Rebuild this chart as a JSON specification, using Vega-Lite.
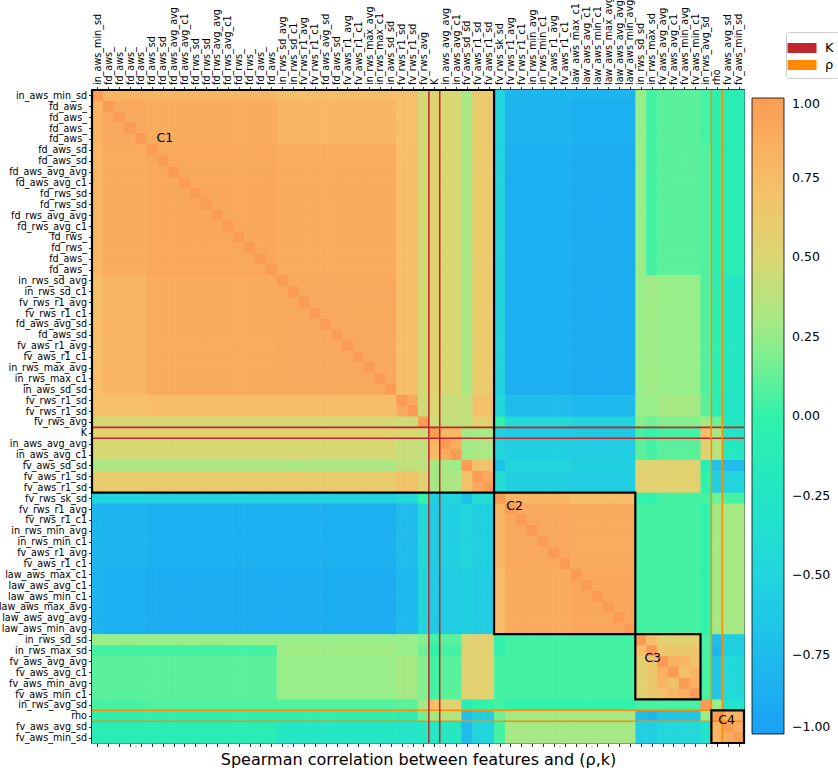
{
"$schema":"https://vega.github.io/schema/vega-lite/v6.json",
"width":652,"height":653,
"autosize":{"type":"none"},
"padding":{"left":92,"top":90,"right":94,"bottom":30},
"params":[{"name":"names","value":["in_aws_min_sd","fd_aws_","fd_aws_","fd_aws_","fd_aws_","fd_aws_sd","fd_aws_sd","fd_aws_avg_avg","fd_aws_avg_c1","fd_rws_sd","fd_rws_sd","fd_rws_avg_avg","fd_rws_avg_c1","fd_rws_","fd_rws_","fd_aws_","fd_aws_","in_rws_sd_avg","in_rws_sd_c1","fv_rws_r1_avg","fv_rws_r1_c1","fd_aws_avg_sd","fd_aws_sd","fv_aws_r1_avg","fv_aws_r1_c1","in_rws_max_avg","in_rws_max_c1","in_aws_sd_sd","fv_rws_r1_sd","fv_rws_r1_sd","fv_rws_avg","K","in_aws_avg_avg","in_aws_avg_c1","fv_aws_sd_sd","fv_aws_r1_sd","fv_aws_r1_sd","fv_rws_sk_sd","fv_rws_r1_avg","fv_rws_r1_c1","in_rws_min_avg","in_rws_min_c1","fv_aws_r1_avg","fv_aws_r1_c1","law_aws_max_c1","law_aws_avg_c1","law_aws_min_c1","law_aws_max_avg","law_aws_avg_avg","law_aws_min_avg","in_rws_sd_sd","in_rws_max_sd","fv_aws_avg_avg","fv_aws_avg_c1","fv_aws_min_avg","fv_aws_min_c1","in_rws_avg_sd","rho","fv_aws_avg_sd","fv_aws_min_sd"]}],
"config":{"font":"DejaVu Sans","view":{"stroke":"black","strokeWidth":1.6},
 "axis":{"grid":false,"domain":false,"tickColor":"black","tickSize":3.5,"tickWidth":0.8,"labelColor":"black","labelFont":"DejaVu Sans","labelFontSize":9.6,"labelPadding":2,"labelOverlap":false,"labelFlush":false,"titleColor":"black","titleFont":"DejaVu Sans","titleFontWeight":"normal"}},
"resolve":{"axis":{"x":"independent","y":"independent"}},
"layer":[
{"data":{"values":[
{"i":0,"v":[100,82,82,82,82,80,80,80,80,80,80,80,80,80,80,80,80,75,75,75,75,75,75,75,75,75,75,75,72,72,47,55,48,48,32,62,62,-50,-80,-80,-80,-80,-80,-80,-82,-82,-82,-82,-82,-82,25,5,10,10,10,10,5,-5,-10,-10]},
{"i":1,"v":[82,100,90,90,90,88,88,88,88,88,88,88,88,88,88,88,88,80,80,80,80,80,80,80,80,80,80,80,72,72,47,55,48,48,32,62,62,-50,-82,-82,-82,-82,-82,-82,-85,-85,-85,-85,-85,-85,25,5,10,10,10,10,5,-5,-10,-10]},
{"i":2,"v":[82,90,100,90,90,88,88,88,88,88,88,88,88,88,88,88,88,80,80,80,80,80,80,80,80,80,80,80,72,72,47,55,48,48,32,62,62,-50,-82,-82,-82,-82,-82,-82,-85,-85,-85,-85,-85,-85,25,5,10,10,10,10,5,-5,-10,-10]},
{"i":3,"v":[82,90,90,100,90,88,88,88,88,88,88,88,88,88,88,88,88,80,80,80,80,80,80,80,80,80,80,80,72,72,47,55,48,48,32,62,62,-50,-82,-82,-82,-82,-82,-82,-85,-85,-85,-85,-85,-85,25,5,10,10,10,10,5,-5,-10,-10]},
{"i":4,"v":[82,90,90,90,100,88,88,88,88,88,88,88,88,88,88,88,88,80,80,80,80,80,80,80,80,80,80,80,72,72,47,55,48,48,32,62,62,-50,-82,-82,-82,-82,-82,-82,-85,-85,-85,-85,-85,-85,25,5,10,10,10,10,5,-5,-10,-10]},
{"i":5,"v":[80,88,88,88,88,100,92,92,92,92,92,92,92,92,92,92,92,88,88,88,88,88,88,88,88,88,88,88,75,75,47,55,48,48,32,62,62,-52,-85,-85,-85,-85,-85,-85,-88,-88,-88,-88,-88,-88,25,5,10,10,10,10,8,-5,-10,-10]},
{"i":6,"v":[80,88,88,88,88,92,100,92,92,92,92,92,92,92,92,92,92,88,88,88,88,88,88,88,88,88,88,88,75,75,47,55,48,48,32,62,62,-52,-85,-85,-85,-85,-85,-85,-88,-88,-88,-88,-88,-88,25,5,10,10,10,10,8,-5,-10,-10]},
{"i":7,"v":[80,88,88,88,88,92,92,100,92,92,92,92,92,92,92,92,92,88,88,88,88,88,88,88,88,88,88,88,75,75,47,55,48,48,32,62,62,-52,-85,-85,-85,-85,-85,-85,-88,-88,-88,-88,-88,-88,25,5,10,10,10,10,8,-5,-10,-10]},
{"i":8,"v":[80,88,88,88,88,92,92,92,100,92,92,92,92,92,92,92,92,88,88,88,88,88,88,88,88,88,88,88,75,75,47,55,48,48,32,62,62,-52,-85,-85,-85,-85,-85,-85,-88,-88,-88,-88,-88,-88,25,5,10,10,10,10,8,-5,-10,-10]},
{"i":9,"v":[80,88,88,88,88,92,92,92,92,100,92,92,92,92,92,92,92,88,88,88,88,88,88,88,88,88,88,88,75,75,47,55,48,48,32,62,62,-52,-85,-85,-85,-85,-85,-85,-88,-88,-88,-88,-88,-88,25,5,10,10,10,10,8,-5,-10,-10]},
{"i":10,"v":[80,88,88,88,88,92,92,92,92,92,100,92,92,92,92,92,92,88,88,88,88,88,88,88,88,88,88,88,75,75,47,55,48,48,32,62,62,-52,-85,-85,-85,-85,-85,-85,-88,-88,-88,-88,-88,-88,25,5,10,10,10,10,8,-5,-10,-10]},
{"i":11,"v":[80,88,88,88,88,92,92,92,92,92,92,100,92,92,92,92,92,88,88,88,88,88,88,88,88,88,88,88,75,75,47,55,48,48,32,62,62,-52,-85,-85,-85,-85,-85,-85,-88,-88,-88,-88,-88,-88,25,5,10,10,10,10,8,-5,-10,-10]},
{"i":12,"v":[80,88,88,88,88,92,92,92,92,92,92,92,100,92,92,92,92,88,88,88,88,88,88,88,88,88,88,88,75,75,47,55,48,48,32,62,62,-52,-85,-85,-85,-85,-85,-85,-88,-88,-88,-88,-88,-88,25,5,10,10,10,10,8,-5,-10,-10]},
{"i":13,"v":[80,88,88,88,88,92,92,92,92,92,92,92,92,100,92,92,92,88,88,88,88,88,88,88,88,88,88,88,75,75,47,55,48,48,32,62,62,-52,-85,-85,-85,-85,-85,-85,-88,-88,-88,-88,-88,-88,25,5,10,10,10,10,8,-5,-10,-10]},
{"i":14,"v":[80,88,88,88,88,92,92,92,92,92,92,92,92,92,100,92,92,88,88,88,88,88,88,88,88,88,88,88,75,75,47,55,48,48,32,62,62,-52,-85,-85,-85,-85,-85,-85,-88,-88,-88,-88,-88,-88,25,5,10,10,10,10,8,-5,-10,-10]},
{"i":15,"v":[80,88,88,88,88,92,92,92,92,92,92,92,92,92,92,100,92,88,88,88,88,88,88,88,88,88,88,88,75,75,47,55,48,48,32,62,62,-52,-85,-85,-85,-85,-85,-85,-88,-88,-88,-88,-88,-88,25,5,10,10,10,10,8,-5,-10,-10]},
{"i":16,"v":[80,88,88,88,88,92,92,92,92,92,92,92,92,92,92,92,100,88,88,88,88,88,88,88,88,88,88,88,75,75,47,55,48,48,32,62,62,-52,-85,-85,-85,-85,-85,-85,-88,-88,-88,-88,-88,-88,25,5,10,10,10,10,8,-5,-10,-10]},
{"i":17,"v":[75,80,80,80,80,88,88,88,88,88,88,88,88,88,88,88,88,100,90,90,90,90,90,90,90,90,90,90,75,75,47,55,48,48,32,62,62,-52,-85,-85,-85,-85,-85,-85,-88,-88,-88,-88,-88,-88,25,28,25,25,25,25,8,-5,-22,-22]},
{"i":18,"v":[75,80,80,80,80,88,88,88,88,88,88,88,88,88,88,88,88,90,100,90,90,90,90,90,90,90,90,90,75,75,47,55,48,48,32,62,62,-52,-85,-85,-85,-85,-85,-85,-88,-88,-88,-88,-88,-88,25,28,25,25,25,25,8,-5,-22,-22]},
{"i":19,"v":[75,80,80,80,80,88,88,88,88,88,88,88,88,88,88,88,88,90,90,100,90,90,90,90,90,90,90,90,75,75,47,55,48,48,32,62,62,-52,-85,-85,-85,-85,-85,-85,-88,-88,-88,-88,-88,-88,25,28,25,25,25,25,8,-5,-22,-22]},
{"i":20,"v":[75,80,80,80,80,88,88,88,88,88,88,88,88,88,88,88,88,90,90,90,100,90,90,90,90,90,90,90,75,75,47,55,48,48,32,62,62,-52,-85,-85,-85,-85,-85,-85,-88,-88,-88,-88,-88,-88,25,28,25,25,25,25,8,-5,-22,-22]},
{"i":21,"v":[75,80,80,80,80,88,88,88,88,88,88,88,88,88,88,88,88,90,90,90,90,100,90,90,90,90,90,90,75,75,47,55,48,48,32,62,62,-52,-85,-85,-85,-85,-85,-85,-88,-88,-88,-88,-88,-88,25,28,25,25,25,25,8,-5,-22,-22]},
{"i":22,"v":[75,80,80,80,80,88,88,88,88,88,88,88,88,88,88,88,88,90,90,90,90,90,100,90,90,90,90,90,75,75,47,55,48,48,32,62,62,-52,-85,-85,-85,-85,-85,-85,-88,-88,-88,-88,-88,-88,25,28,25,25,25,25,8,-5,-22,-22]},
{"i":23,"v":[75,80,80,80,80,88,88,88,88,88,88,88,88,88,88,88,88,90,90,90,90,90,90,100,90,90,90,90,75,75,47,55,48,48,32,62,62,-52,-85,-85,-85,-85,-85,-85,-88,-88,-88,-88,-88,-88,25,28,25,25,25,25,8,-5,-22,-22]},
{"i":24,"v":[75,80,80,80,80,88,88,88,88,88,88,88,88,88,88,88,88,90,90,90,90,90,90,90,100,90,90,90,75,75,47,55,48,48,32,62,62,-52,-85,-85,-85,-85,-85,-85,-88,-88,-88,-88,-88,-88,25,28,25,25,25,25,8,-5,-22,-22]},
{"i":25,"v":[75,80,80,80,80,88,88,88,88,88,88,88,88,88,88,88,88,90,90,90,90,90,90,90,90,100,90,90,75,75,47,55,48,48,32,62,62,-52,-85,-85,-85,-85,-85,-85,-88,-88,-88,-88,-88,-88,25,28,25,25,25,25,8,-5,-22,-22]},
{"i":26,"v":[75,80,80,80,80,88,88,88,88,88,88,88,88,88,88,88,88,90,90,90,90,90,90,90,90,90,100,90,75,75,47,55,48,48,32,62,62,-52,-85,-85,-85,-85,-85,-85,-88,-88,-88,-88,-88,-88,25,28,25,25,25,25,8,-5,-22,-22]},
{"i":27,"v":[75,80,80,80,80,88,88,88,88,88,88,88,88,88,88,88,88,90,90,90,90,90,90,90,90,90,90,100,75,75,47,55,48,48,32,62,62,-52,-85,-85,-85,-85,-85,-85,-88,-88,-88,-88,-88,-88,25,28,25,25,25,25,8,-5,-22,-22]},
{"i":28,"v":[72,72,72,72,72,75,75,75,75,75,75,75,75,75,75,75,75,75,75,75,75,75,75,75,75,75,75,75,100,90,45,50,42,42,40,70,70,-45,-75,-75,-75,-75,-75,-75,-78,-78,-78,-78,-78,-78,25,25,30,30,30,30,10,-10,-25,-25]},
{"i":29,"v":[72,72,72,72,72,75,75,75,75,75,75,75,75,75,75,75,75,75,75,75,75,75,75,75,75,75,75,75,90,100,45,50,42,42,40,70,70,-45,-75,-75,-75,-75,-75,-75,-78,-78,-78,-78,-78,-78,25,25,30,30,30,30,10,-10,-25,-25]},
{"i":30,"v":[47,47,47,47,47,47,47,47,47,47,47,47,47,47,47,47,47,47,47,47,47,47,47,47,47,47,47,47,45,45,100,45,40,40,38,55,55,0,-45,-45,-45,-45,-45,-45,-50,-50,-50,-50,-50,-50,20,15,20,20,20,20,30,15,-20,-20]},
{"i":31,"v":[55,55,55,55,55,55,55,55,55,55,55,55,55,55,55,55,55,55,55,55,55,55,55,55,55,55,55,55,50,50,45,100,78,78,30,30,30,-55,-60,-60,-60,-60,-60,-60,-62,-62,-62,-62,-62,-62,5,0,5,5,5,5,75,30,-25,-25]},
{"i":32,"v":[48,48,48,48,48,48,48,48,48,48,48,48,48,48,48,48,48,48,48,48,48,48,48,48,48,48,48,48,42,42,40,78,100,88,28,32,32,-50,-55,-55,-55,-55,-55,-55,-58,-58,-58,-58,-58,-58,10,5,10,10,10,10,55,35,-20,-20]},
{"i":33,"v":[48,48,48,48,48,48,48,48,48,48,48,48,48,48,48,48,48,48,48,48,48,48,48,48,48,48,48,48,42,42,40,78,88,100,28,32,32,-50,-55,-55,-55,-55,-55,-55,-58,-58,-58,-58,-58,-58,10,5,10,10,10,10,55,35,-20,-20]},
{"i":34,"v":[32,32,32,32,32,32,32,32,32,32,32,32,32,32,32,32,32,32,32,32,32,32,32,32,32,32,32,32,40,40,38,30,28,28,100,70,70,-70,-50,-50,-50,-50,-50,-50,-55,-55,-55,-55,-55,-55,50,55,55,55,55,55,-10,-70,-75,-75]},
{"i":35,"v":[62,62,62,62,62,62,62,62,62,62,62,62,62,62,62,62,62,62,62,62,62,62,62,62,62,62,62,62,70,70,55,30,32,32,70,100,90,-40,-55,-55,-55,-55,-55,-55,-58,-58,-58,-58,-58,-58,55,55,55,55,55,55,0,-55,-50,-50]},
{"i":36,"v":[62,62,62,62,62,62,62,62,62,62,62,62,62,62,62,62,62,62,62,62,62,62,62,62,62,62,62,62,70,70,55,30,32,32,70,90,100,-40,-55,-55,-55,-55,-55,-55,-58,-58,-58,-58,-58,-58,55,55,55,55,55,55,0,-55,-50,-50]},
{"i":37,"v":[-50,-50,-50,-50,-50,-52,-52,-52,-52,-52,-52,-52,-52,-52,-52,-52,-52,-52,-52,-52,-52,-52,-52,-52,-52,-52,-52,-52,-45,-45,0,-55,-50,-50,-70,-40,-40,100,80,80,80,80,80,80,75,75,75,75,75,75,0,0,5,5,5,5,5,15,5,5]},
{"i":38,"v":[-80,-82,-82,-82,-82,-85,-85,-85,-85,-85,-85,-85,-85,-85,-85,-85,-85,-85,-85,-85,-85,-85,-85,-85,-85,-85,-85,-85,-75,-75,-45,-60,-55,-55,-50,-55,-55,80,100,90,90,90,90,90,88,88,88,88,88,88,5,5,5,5,5,5,0,30,30,30]},
{"i":39,"v":[-80,-82,-82,-82,-82,-85,-85,-85,-85,-85,-85,-85,-85,-85,-85,-85,-85,-85,-85,-85,-85,-85,-85,-85,-85,-85,-85,-85,-75,-75,-45,-60,-55,-55,-50,-55,-55,80,90,100,90,90,90,90,88,88,88,88,88,88,5,5,5,5,5,5,0,30,30,30]},
{"i":40,"v":[-80,-82,-82,-82,-82,-85,-85,-85,-85,-85,-85,-85,-85,-85,-85,-85,-85,-85,-85,-85,-85,-85,-85,-85,-85,-85,-85,-85,-75,-75,-45,-60,-55,-55,-50,-55,-55,80,90,90,100,90,90,90,88,88,88,88,88,88,5,5,5,5,5,5,0,30,30,30]},
{"i":41,"v":[-80,-82,-82,-82,-82,-85,-85,-85,-85,-85,-85,-85,-85,-85,-85,-85,-85,-85,-85,-85,-85,-85,-85,-85,-85,-85,-85,-85,-75,-75,-45,-60,-55,-55,-50,-55,-55,80,90,90,90,100,90,90,88,88,88,88,88,88,5,5,5,5,5,5,0,30,30,30]},
{"i":42,"v":[-80,-82,-82,-82,-82,-85,-85,-85,-85,-85,-85,-85,-85,-85,-85,-85,-85,-85,-85,-85,-85,-85,-85,-85,-85,-85,-85,-85,-75,-75,-45,-60,-55,-55,-50,-55,-55,80,90,90,90,90,100,90,88,88,88,88,88,88,5,5,5,5,5,5,0,30,30,30]},
{"i":43,"v":[-80,-82,-82,-82,-82,-85,-85,-85,-85,-85,-85,-85,-85,-85,-85,-85,-85,-85,-85,-85,-85,-85,-85,-85,-85,-85,-85,-85,-75,-75,-45,-60,-55,-55,-50,-55,-55,80,90,90,90,90,90,100,88,88,88,88,88,88,5,5,5,5,5,5,0,30,30,30]},
{"i":44,"v":[-82,-85,-85,-85,-85,-88,-88,-88,-88,-88,-88,-88,-88,-88,-88,-88,-88,-88,-88,-88,-88,-88,-88,-88,-88,-88,-88,-88,-78,-78,-50,-62,-58,-58,-55,-58,-58,75,88,88,88,88,88,88,100,92,92,92,92,92,5,5,5,5,5,5,0,30,30,30]},
{"i":45,"v":[-82,-85,-85,-85,-85,-88,-88,-88,-88,-88,-88,-88,-88,-88,-88,-88,-88,-88,-88,-88,-88,-88,-88,-88,-88,-88,-88,-88,-78,-78,-50,-62,-58,-58,-55,-58,-58,75,88,88,88,88,88,88,92,100,92,92,92,92,5,5,5,5,5,5,0,30,30,30]},
{"i":46,"v":[-82,-85,-85,-85,-85,-88,-88,-88,-88,-88,-88,-88,-88,-88,-88,-88,-88,-88,-88,-88,-88,-88,-88,-88,-88,-88,-88,-88,-78,-78,-50,-62,-58,-58,-55,-58,-58,75,88,88,88,88,88,88,92,92,100,92,92,92,5,5,5,5,5,5,0,30,30,30]},
{"i":47,"v":[-82,-85,-85,-85,-85,-88,-88,-88,-88,-88,-88,-88,-88,-88,-88,-88,-88,-88,-88,-88,-88,-88,-88,-88,-88,-88,-88,-88,-78,-78,-50,-62,-58,-58,-55,-58,-58,75,88,88,88,88,88,88,92,92,92,100,92,92,5,5,5,5,5,5,0,30,30,30]},
{"i":48,"v":[-82,-85,-85,-85,-85,-88,-88,-88,-88,-88,-88,-88,-88,-88,-88,-88,-88,-88,-88,-88,-88,-88,-88,-88,-88,-88,-88,-88,-78,-78,-50,-62,-58,-58,-55,-58,-58,75,88,88,88,88,88,88,92,92,92,92,100,92,5,5,5,5,5,5,0,30,30,30]},
{"i":49,"v":[-82,-85,-85,-85,-85,-88,-88,-88,-88,-88,-88,-88,-88,-88,-88,-88,-88,-88,-88,-88,-88,-88,-88,-88,-88,-88,-88,-88,-78,-78,-50,-62,-58,-58,-55,-58,-58,75,88,88,88,88,88,88,92,92,92,92,92,100,5,5,5,5,5,5,0,30,30,30]},
{"i":50,"v":[25,25,25,25,25,25,25,25,25,25,25,25,25,25,25,25,25,25,25,25,25,25,25,25,25,25,25,25,25,25,20,5,10,10,50,55,55,0,5,5,5,5,5,5,5,5,5,5,5,5,100,75,55,55,55,55,5,-75,-55,-55]},
{"i":51,"v":[5,5,5,5,5,5,5,5,5,5,5,5,5,5,5,5,5,28,28,28,28,28,28,28,28,28,28,28,25,25,15,0,5,5,55,55,55,0,5,5,5,5,5,5,5,5,5,5,5,5,75,100,65,65,65,65,5,-80,-55,-55]},
{"i":52,"v":[10,10,10,10,10,10,10,10,10,10,10,10,10,10,10,10,10,25,25,25,25,25,25,25,25,25,25,25,30,30,20,5,10,10,55,55,55,5,5,5,5,5,5,5,5,5,5,5,5,5,55,65,100,85,80,70,5,-65,-45,-45]},
{"i":53,"v":[10,10,10,10,10,10,10,10,10,10,10,10,10,10,10,10,10,25,25,25,25,25,25,25,25,25,25,25,30,30,20,5,10,10,55,55,55,5,5,5,5,5,5,5,5,5,5,5,5,5,55,65,85,100,70,80,5,-65,-45,-45]},
{"i":54,"v":[10,10,10,10,10,10,10,10,10,10,10,10,10,10,10,10,10,25,25,25,25,25,25,25,25,25,25,25,30,30,20,5,10,10,55,55,55,5,5,5,5,5,5,5,5,5,5,5,5,5,55,65,80,70,100,85,5,-65,-45,-45]},
{"i":55,"v":[10,10,10,10,10,10,10,10,10,10,10,10,10,10,10,10,10,25,25,25,25,25,25,25,25,25,25,25,30,30,20,5,10,10,55,55,55,5,5,5,5,5,5,5,5,5,5,5,5,5,55,65,70,80,85,100,5,-65,-45,-45]},
{"i":56,"v":[5,5,5,5,5,8,8,8,8,8,8,8,8,8,8,8,8,8,8,8,8,8,8,8,8,8,8,8,10,10,30,75,55,55,-10,0,0,5,0,0,0,0,0,0,0,0,0,0,0,0,5,5,5,5,5,5,100,25,-30,-30]},
{"i":57,"v":[-5,-5,-5,-5,-5,-5,-5,-5,-5,-5,-5,-5,-5,-5,-5,-5,-5,-5,-5,-5,-5,-5,-5,-5,-5,-5,-5,-5,-10,-10,15,30,35,35,-70,-55,-55,15,30,30,30,30,30,30,30,30,30,30,30,30,-75,-80,-65,-65,-65,-65,25,100,80,80]},
{"i":58,"v":[-10,-10,-10,-10,-10,-10,-10,-10,-10,-10,-10,-10,-10,-10,-10,-10,-10,-22,-22,-22,-22,-22,-22,-22,-22,-22,-22,-22,-25,-25,-20,-25,-20,-20,-75,-50,-50,5,30,30,30,30,30,30,30,30,30,30,30,30,-55,-55,-45,-45,-45,-45,-30,80,100,88]},
{"i":59,"v":[-10,-10,-10,-10,-10,-10,-10,-10,-10,-10,-10,-10,-10,-10,-10,-10,-10,-22,-22,-22,-22,-22,-22,-22,-22,-22,-22,-22,-25,-25,-20,-25,-20,-20,-75,-50,-50,5,30,30,30,30,30,30,30,30,30,30,30,30,-55,-55,-45,-45,-45,-45,-30,80,88,100]}
]},
"transform":[
 {"flatten":["v"]},
 {"window":[{"op":"row_number","as":"j"}],"groupby":["i"]},
 {"calculate":"datum.j-1","as":"j0"},
 {"calculate":"datum.i+1","as":"i1"}
],
"mark":{"type":"rect","x2Offset":0.6,"y2Offset":0.6},
"encoding":{
 "x":{"field":"j0","type":"quantitative","scale":{"domain":[0,60],"nice":false,"zero":false},
  "axis":{"orient":"top","title":null,"labelAngle":-90,"values":[0.5,1.5,2.5,3.5,4.5,5.5,6.5,7.5,8.5,9.5,10.5,11.5,12.5,13.5,14.5,15.5,16.5,17.5,18.5,19.5,20.5,21.5,22.5,23.5,24.5,25.5,26.5,27.5,28.5,29.5,30.5,31.5,32.5,33.5,34.5,35.5,36.5,37.5,38.5,39.5,40.5,41.5,42.5,43.5,44.5,45.5,46.5,47.5,48.5,49.5,50.5,51.5,52.5,53.5,54.5,55.5,56.5,57.5,58.5,59.5],"labelExpr":"names[floor(datum.value)]"}},
 "x2":{"field":"j"},
 "y":{"field":"i","type":"quantitative","scale":{"domain":[0,60],"nice":false,"zero":false,"reverse":true},
  "axis":{"orient":"left","title":null,"values":[0.5,1.5,2.5,3.5,4.5,5.5,6.5,7.5,8.5,9.5,10.5,11.5,12.5,13.5,14.5,15.5,16.5,17.5,18.5,19.5,20.5,21.5,22.5,23.5,24.5,25.5,26.5,27.5,28.5,29.5,30.5,31.5,32.5,33.5,34.5,35.5,36.5,37.5,38.5,39.5,40.5,41.5,42.5,43.5,44.5,45.5,46.5,47.5,48.5,49.5,50.5,51.5,52.5,53.5,54.5,55.5,56.5,57.5,58.5,59.5],"labelExpr":"names[floor(datum.value)]"}},
 "y2":{"field":"i1"},
 "color":{"field":"v","type":"quantitative",
  "scale":{"domain":[-100,-75,-50,-25,0,25,50,75,100],"range":["#1a9ff5","#1fbcec","#22d5dd","#22e6c6","#30f2aa","#98ee88","#dcd672","#f8bd68","#fa9c55"],"interpolate":"rgb"},
  "legend":{"orient":"none","legendX":660,"legendY":8,"direction":"vertical","gradientLength":636,"gradientThickness":32,"values":[-100,-75,-50,-25,0,25,50,75,100],"labelExpr":"format(datum.value/100,'.2f')","labelFontSize":12.5,"labelOffset":8,"labelColor":"black","labelOverlap":false,"gradientStrokeColor":"black","gradientStrokeWidth":0.8,"title":null}}
}},
{"data":{"values":[{"s":"K","e":31},{"s":"K","e":32},{"s":"ρ","e":57},{"s":"ρ","e":58}]},
 "transform":[{"calculate":"datum.e-0.07","as":"e0"},{"calculate":"datum.e+0.07","as":"e1"}],
 "mark":{"type":"rect"},
 "encoding":{
  "y":{"field":"e0","type":"quantitative","axis":null},
  "y2":{"field":"e1"},
  "fill":{"field":"s","type":"nominal","scale":{"domain":["K","ρ"],"range":["#c0272d","#ff8c00"]},
   "legend":{"orient":"none","legendX":694,"legendY":-58,"title":null,"symbolType":"M-1.45,-0.5H1.45V0.5H-1.45Z","symbolSize":400,"symbolStrokeWidth":0,"labelFontSize":13,"labelOffset":13,"labelColor":"black","rowPadding":0,"padding":6,"strokeColor":"#cccccc","fillColor":"white","cornerRadius":3}}
 }},
{"data":{"values":[{"s":"K","e":31},{"s":"K","e":32},{"s":"ρ","e":57},{"s":"ρ","e":58}]},
 "transform":[{"calculate":"datum.e-0.07","as":"e0"},{"calculate":"datum.e+0.07","as":"e1"}],
 "mark":{"type":"rect"},
 "encoding":{
  "x":{"field":"e0","type":"quantitative","axis":{"orient":"bottom","labels":false,"values":[0.5,1.5,2.5,3.5,4.5,5.5,6.5,7.5,8.5,9.5,10.5,11.5,12.5,13.5,14.5,15.5,16.5,17.5,18.5,19.5,20.5,21.5,22.5,23.5,24.5,25.5,26.5,27.5,28.5,29.5,30.5,31.5,32.5,33.5,34.5,35.5,36.5,37.5,38.5,39.5,40.5,41.5,42.5,43.5,44.5,45.5,46.5,47.5,48.5,49.5,50.5,51.5,52.5,53.5,54.5,55.5,56.5,57.5,58.5,59.5],"title":"Spearman correlation between features and (ρ,k)","titleFontSize":16,"titlePadding":5}},
  "x2":{"field":"e1"},
  "fill":{"field":"s","type":"nominal"}
 }},
{"data":{"values":[{"c":"C1","a":0,"b":37,"lx":6.7,"ly":4.4},{"c":"C2","a":37,"b":50,"lx":38.9,"ly":38.2},{"c":"C3","a":50,"b":56,"lx":51.6,"ly":52.2},{"c":"C4","a":57,"b":60,"lx":58.4,"ly":57.9}]},
 "layer":[
  {"mark":{"type":"rect","fill":"transparent","stroke":"black","strokeWidth":2.2},
   "encoding":{"x":{"field":"a","type":"quantitative","axis":null},"x2":{"field":"b"},"y":{"field":"a","type":"quantitative","axis":null},"y2":{"field":"b"}}},
  {"mark":{"type":"text","fontSize":12.5,"color":"black","font":"DejaVu Sans"},
   "encoding":{"x":{"field":"lx","type":"quantitative","axis":null},"y":{"field":"ly","type":"quantitative","axis":null},"text":{"field":"c"}}}
 ]}
]
}
